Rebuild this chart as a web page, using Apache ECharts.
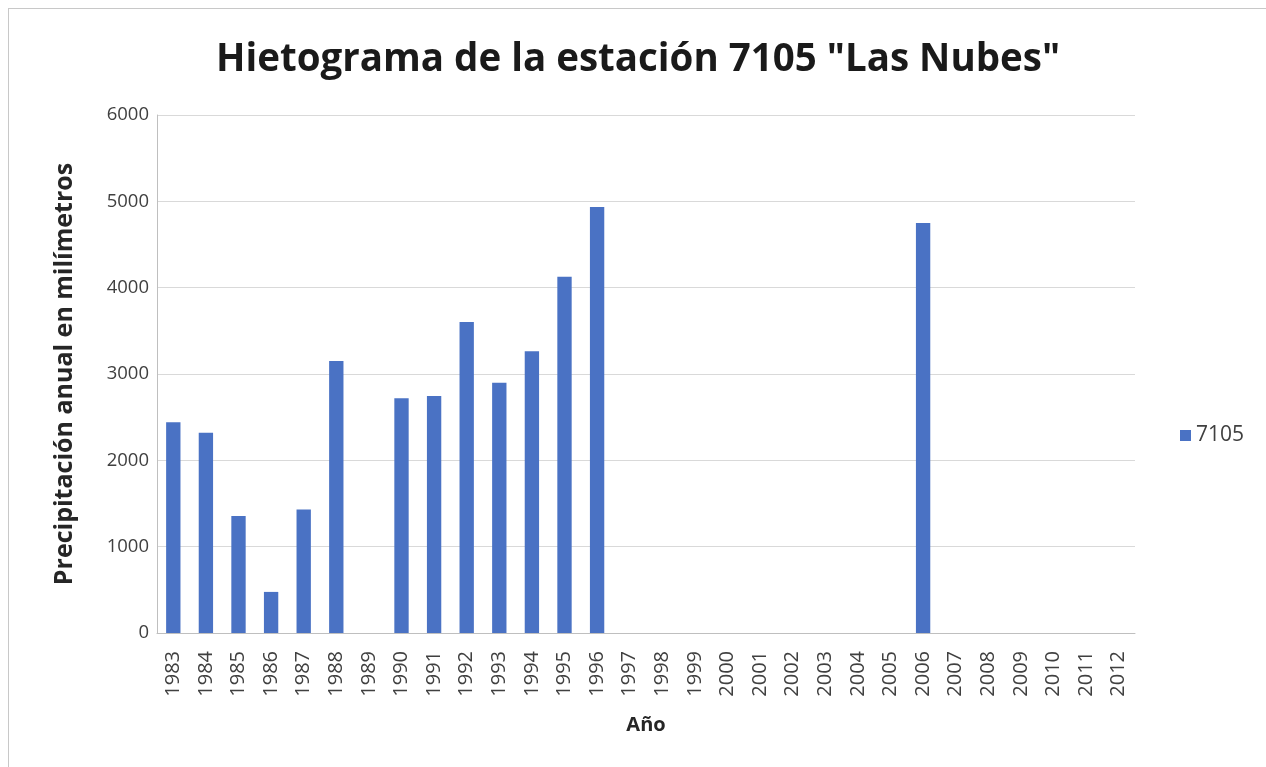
<!DOCTYPE html>
<html>
<head>
<meta charset="utf-8">
<script src="https://cdn.jsdelivr.net/npm/echarts@6/dist/echarts.min.js"></script>
<style>
  html, body { margin: 0; padding: 0; background: #fff; }
  #frame {
    position: absolute; left: 8px; top: 8px; width: 1262px; height: 765px;
    border: 1px solid #c8c8c8; box-sizing: border-box;
  }
  #chart { position: absolute; left: 0; top: 0; width: 1266px; height: 767px; }
</style>
</head>
<body>
<div id="frame"></div>
<div id="chart"></div>
<script>
// años de la estación
var years = ['1983', '1984', '1985', '1986', '1987', '1988', '1989', '1990', '1991', '1992',
  '1993', '1994', '1995', '1996', '1997', '1998', '1999', '2000', '2001', '2002',
  '2003', '2004', '2005', '2006', '2007', '2008', '2009', '2010', '2011', '2012'];
// precipitación anual (mm)
var precip = [2440, 2320, 1356, 476, 1430, 3150, 0, 2720, 2746, 3602,
  2900, 3263, 4127, 4934, 0, 0, 0, 0, 0, 0,
  0, 0, 0, 4750, 0, 0, 0, 0, 0, 0];
var yTicks = [0, 1000, 2000, 3000, 4000, 5000, 6000];

var font = '"Open Sans", sans-serif';
var myChart = echarts.init(document.getElementById('chart'));

var option = {
  animation: false,
  textStyle: { fontFamily: font },
  title: {
    text: 'Hietograma de la estación 7105 "Las Nubes"',
    left: 211,
    top: 36,
    textStyle: { fontSize: 38.5, fontWeight: 'bold', color: '#1a1a1a', fontFamily: font }
  },
  legend: {
    data: ['7105'],
    orient: 'vertical',
    left: 1175,
    top: 420,
    itemWidth: 11,
    itemHeight: 11,
    itemGap: 6,
    icon: 'rect',
    textStyle: { fontSize: 21, color: '#404040', fontFamily: font }
  },
  grid: { left: 157, right: 131, top: 115, bottom: 134 },
  xAxis: {
    type: 'category',
    data: years,
    name: 'Año',
    nameLocation: 'middle',
    nameGap: 82,
    nameTextStyle: { fontSize: 20, fontWeight: 'bold', color: '#262626' },
    axisLine: { lineStyle: { color: '#bfbfbf' } },
    axisTick: { show: false },
    axisLabel: { rotate: 90, fontSize: 20, color: '#404040', margin: 18, interval: 0 }
  },
  yAxis: {
    type: 'value',
    min: 0,
    max: 6000,
    interval: 1000,
    name: 'Precipitación anual en milímetros',
    nameLocation: 'middle',
    nameGap: 80,
    nameTextStyle: { fontSize: 25, fontWeight: 'bold', color: '#262626' },
    axisLine: { show: true, lineStyle: { color: '#bfbfbf' } },
    axisTick: { show: false },
    axisLabel: {
      fontSize: 18.5, color: '#404040', margin: 8,
      formatter: function (v) { return yTicks.indexOf(v) >= 0 ? String(v) : ''; }
    },
    splitLine: { lineStyle: { color: '#d9d9d9' } }
  },
  series: [{
    name: '7105',
    type: 'bar',
    data: precip,
    barWidth: '44%',
    itemStyle: { color: '#4a72c4' }
  }]
};

myChart.setOption(option);
</script>
</body>
</html>
